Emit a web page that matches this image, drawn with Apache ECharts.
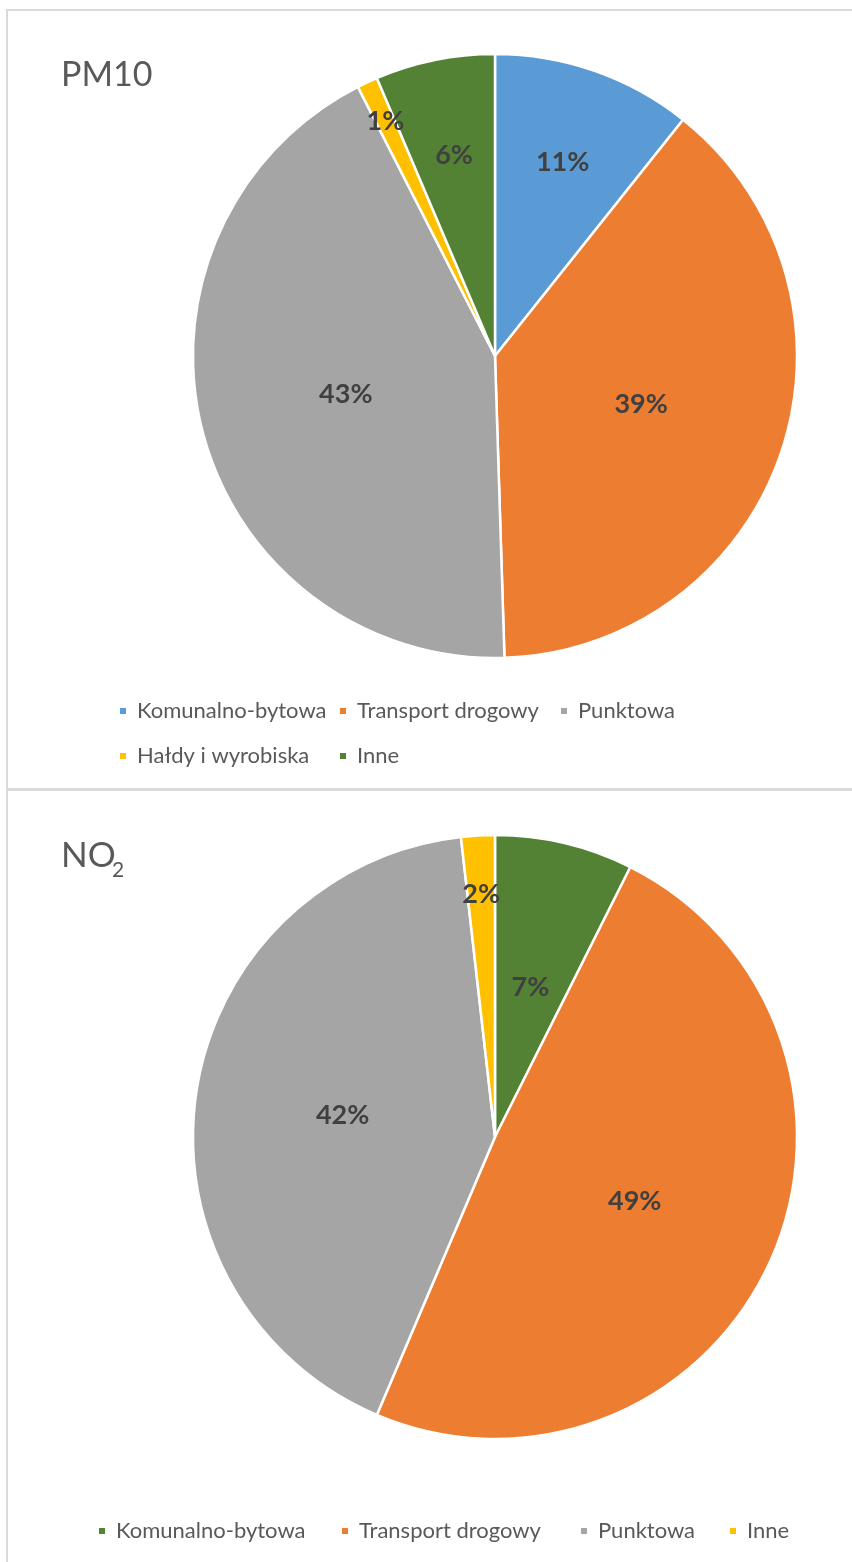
<!DOCTYPE html>
<html><head><meta charset="utf-8">
<script src="https://cdn.jsdelivr.net/npm/echarts@6/dist/echarts.min.js"></script>
<style>
html,body{margin:0;padding:0;background:#fff;width:852px;height:1562px;overflow:hidden;position:relative;}
.c{position:absolute;left:0;width:852px;}
.ln{position:absolute;background:#d9d9d9;}
</style></head>
<body>
<div id="top" class="c" style="top:0;height:790px"></div>
<div id="bot" class="c" style="top:790px;height:772px"></div>
<div class="ln" style="left:7px;top:9px;width:845px;height:2px"></div>
<div class="ln" style="left:6px;top:9px;width:2px;height:1553px"></div>
<div class="ln" style="left:6px;top:788px;width:846px;height:3px"></div>
<script>
// ---- data ----
const pm10Categories = ['Komunalno-bytowa', 'Transport drogowy', 'Punktowa', 'Hałdy i wyrobiska', 'Inne'];
const pm10Values = [10.7, 38.8, 43.0, 1.1, 6.4];
const pm10Colors = ['#5b9bd5', '#ed7d31', '#a5a5a5', '#ffc000', '#548235'];

const no2Categories = ['Komunalno-bytowa', 'Transport drogowy', 'Punktowa', 'Inne'];
const no2Values = [7.4, 49.0, 41.8, 1.8];
const no2Colors = ['#548235', '#ed7d31', '#a5a5a5', '#ffc000'];

const FONT = 'Lato, "Open Sans", sans-serif';

function buildData(cats, vals, colors) {
  return cats.map((c, i) => ({ name: c, value: vals[i], itemStyle: { color: colors[i] } }));
}
const labelFmt = p => Math.round(p.percent) + '%';
const labelStyle = { show: true, position: 'inside', formatter: labelFmt, color: '#404040',
  fontFamily: FONT, fontWeight: 'bold', fontSize: 27, padding: [4, 0, 0, 0] };

// main series + transparent overlay series to place some labels further out
function pieSeries(cats, vals, colors, center, outerMap) {
  const main = {
    type: 'pie', center: center, radius: 302, startAngle: 90, clockwise: true,
    avoidLabelOverlap: false, silent: true,
    itemStyle: { borderColor: '#ffffff', borderWidth: 2.5 },
    label: labelStyle, labelLine: { show: false },
    data: buildData(cats, vals, colors).map(d => Object.assign(d, {
      label: { show: !(d.name in outerMap) } }))
  };
  const overlays = [];
  const radii = [...new Set(Object.values(outerMap))];
  radii.forEach(r => {
    overlays.push({
      type: 'pie', center: center, radius: r * 2, startAngle: 90, clockwise: true,
      avoidLabelOverlap: false, silent: true, z: 5,
      itemStyle: { color: 'rgba(0,0,0,0)', borderWidth: 0 },
      emphasis: { disabled: true },
      label: labelStyle, labelLine: { show: false },
      data: cats.map((c, i) => ({ name: c, value: vals[i],
        itemStyle: { color: 'rgba(0,0,0,0)' },
        label: { show: outerMap[c] === r } }))
    });
  });
  return [main].concat(overlays);
}

function legendItems(cats, lefts, centers) {
  return cats.map((c, i) => ({
    data: [c], left: lefts[i], top: centers[i] - 11, padding: 0,
    itemWidth: 8, itemHeight: 8, icon: 'rect', selectedMode: false,
    textStyle: { fontFamily: FONT, fontSize: 22, color: '#595959', lineHeight: 22, padding: [0, 0, 0, 5] }
  }));
}

const chartTop = echarts.init(document.getElementById('top'));
chartTop.setOption({
  animation: false,
  title: { text: 'PM10', left: 61, top: 58, padding: 0,
    textStyle: { fontFamily: FONT, fontWeight: 'normal', fontSize: 34, color: '#595959' } },
  legend: legendItems(pm10Categories, [118, 338, 559, 118, 338], [711, 711, 711, 756, 756]),
  series: pieSeries(pm10Categories, pm10Values, pm10Colors, [495, 356],
    { 'Komunalno-bytowa': 202, 'Inne': 202, 'Hałdy i wyrobiska': 256 })
});

const chartBot = echarts.init(document.getElementById('bot'));
chartBot.setOption({
  animation: false,
  title: [
    { text: 'NO', left: 61, top: 48, padding: 0,
      textStyle: { fontFamily: FONT, fontWeight: 'normal', fontSize: 35, color: '#595959' } },
    { text: '2', left: 112, top: 70, padding: 0,
      textStyle: { fontFamily: FONT, fontWeight: 'normal', fontSize: 21, color: '#595959' } }
  ],
  legend: legendItems(no2Categories, [97, 340, 579, 728], [741, 741, 741, 741]),
  series: pieSeries(no2Categories, no2Values, no2Colors, [495, 347],
    { 'Inne': 240 })
});
</script>
</body></html>
